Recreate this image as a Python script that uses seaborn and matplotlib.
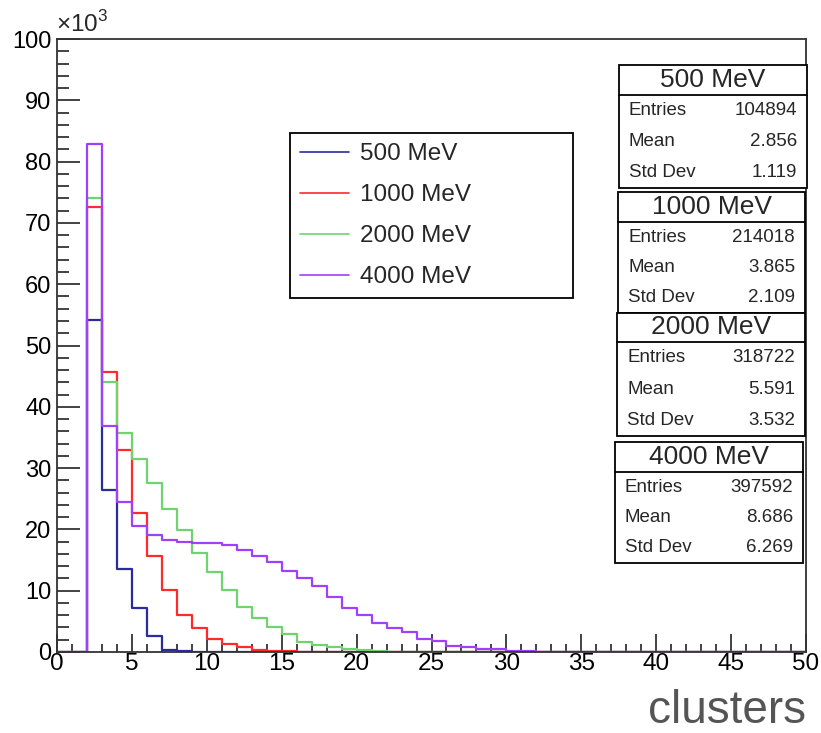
import numpy as np
import pandas as pd
import matplotlib
matplotlib.use("Agg")
import matplotlib.pyplot as plt
import seaborn as sns
from matplotlib.lines import Line2D
from matplotlib.patches import Rectangle
from matplotlib.ticker import MultipleLocator

# Bin contents (in units of 10^3), one value per unit bin starting at 0
counts_500 = [0, 0, 54.2, 26.4, 13.5, 7.2, 2.6, 0.4, 0.15, 0.05,
              0.03, 0.02, 0.02, 0.02, 0.02]
counts_1000 = [0, 0, 72.6, 45.6, 32.9, 22.7, 15.6, 10.1, 6.1, 3.9,
               2.2, 1.3, 0.75, 0.4, 0.2, 0.12, 0.08, 0.05, 0.04, 0.03, 0.02]
counts_2000 = [0, 0, 74.1, 44.1, 35.7, 31.5, 27.5, 23.4, 19.9, 16.2,
               13.1, 10.1, 7.4, 5.5, 4.0, 2.9, 1.7, 1.1, 0.77, 0.55, 0.3, 0.1]
counts_4000 = [0, 0, 82.9, 36.9, 24.4, 20.5, 19.1, 18.3, 18.0, 17.8,
               17.7, 17.4, 16.6, 15.7, 14.7, 13.2, 12.0, 10.7, 8.9, 7.2,
               6.0, 4.8, 3.9, 3.2, 2.2, 1.8, 1.0, 0.8, 0.45, 0.45, 0.2, 0.15]

labels = ["500 MeV", "1000 MeV", "2000 MeV", "4000 MeV"]
colors = ["#2b2ba0", "#ff2a2a", "#6fd36f", "#a040ff"]
entries = ["104894", "214018", "318722", "397592"]
means = ["2.856", "3.865", "5.591", "8.686"]
std_devs = ["1.119", "2.109", "3.532", "6.269"]

n_bins = 50
edges = np.arange(0, n_bins + 1)

sns.set_style("ticks")
plt.rcParams["font.family"] = ["Liberation Sans", "DejaVu Sans"]
plt.rcParams["mathtext.fontset"] = "custom"
plt.rcParams["mathtext.rm"] = "Liberation Sans"

W, H = 821, 733
fig = plt.figure(figsize=(W / 100, H / 100), dpi=100)
ax = fig.add_axes([57 / W, 1 - 652 / H, (806 - 57) / W, (652 - 39) / H])

for counts, lab, col in zip([counts_500, counts_1000, counts_2000, counts_4000], labels, colors):
    full = np.zeros(n_bins)
    full[:len(counts)] = counts
    df = pd.DataFrame({"clusters": edges[:-1] + 0.5, "w": full})
    sns.histplot(data=df, x="clusters", weights="w", bins=list(edges), element="step",
                 fill=False, color=col, linewidth=1.6, ax=ax)

ax.set_xlim(0, 50)
ax.set_ylim(0, 100)
ax.set_xlabel("")
ax.set_ylabel("")
ax.xaxis.set_major_locator(MultipleLocator(5))
ax.xaxis.set_minor_locator(MultipleLocator(1))
ax.yaxis.set_major_locator(MultipleLocator(10))
ax.yaxis.set_minor_locator(MultipleLocator(2))
ax.tick_params(axis="both", which="both", direction="in", colors="#222222",
               labelcolor="black", labelsize=17, top=False, right=False, width=1.2)
ax.tick_params(axis="y", which="major", length=16.5, pad=4)
ax.tick_params(axis="y", which="minor", length=8.5)
ax.tick_params(axis="x", which="major", length=13, pad=1, labelsize=17.5)
ax.tick_params(axis="x", which="minor", length=6)
for sp in ax.spines.values():
    sp.set_visible(True)
    sp.set_color("#333333")
    sp.set_linewidth(1.3)

ax.text(-0.002, 1.003, r"$\times10^{3}$", transform=ax.transAxes,
        fontsize=17.5, ha="left", va="bottom")
fig.text(806 / W, 1 - 711 / H, "clusters", fontsize=33, color="#555555",
         ha="right", va="center")

# Legend
handles = [Line2D([0], [0], color=c, lw=1.2) for c in colors]
leg_top = 1 - 133 / H
leg = ax.legend(handles, labels, loc="upper left",
                bbox_to_anchor=(290 / W, leg_top - 0.1, (573 - 290) / W, 0.1),
                bbox_transform=fig.transFigure, mode="expand",
                borderaxespad=0, fontsize=17.5, handlelength=2.0,
                handletextpad=0.45, labelspacing=0.78, borderpad=0.42,
                fancybox=False, framealpha=1, edgecolor="black")
leg.get_frame().set_linewidth(1.3)

# Stat boxes
boxes = [(619, 807, 65, 95, 188), (618, 805, 192, 222, 313),
         (617, 805, 313, 342, 436), (615, 803, 442, 472, 563)]
for (x0, x1, top, sep, bot), lab, e, m, s in zip(boxes, labels, entries, means, std_devs):
    fig.add_artist(Rectangle((x0 / W, 1 - bot / H), (x1 - x0) / W, (bot - top) / H,
                             transform=fig.transFigure, facecolor="white",
                             edgecolor="black", lw=1.3))
    fig.add_artist(Line2D([x0 / W, x1 / W], [1 - sep / H, 1 - sep / H],
                          transform=fig.transFigure, color="black", lw=1.3))
    fig.text((x0 + x1) / 2 / W, 1 - (top + sep) / 2 / H, lab, fontsize=19,
             ha="center", va="center")
    row_h = (bot - sep) / 3
    for i, (name, val) in enumerate(zip(["Entries", "Mean", "Std Dev"], [e, m, s])):
        yc = 1 - (sep + row_h * (i + 0.5)) / H
        fig.text((x0 + 10) / W, yc, name, fontsize=13.5, ha="left", va="center")
        fig.text((x1 - 10) / W, yc, val, fontsize=13.5, ha="right", va="center")

fig.savefig("out.png", dpi=100)
